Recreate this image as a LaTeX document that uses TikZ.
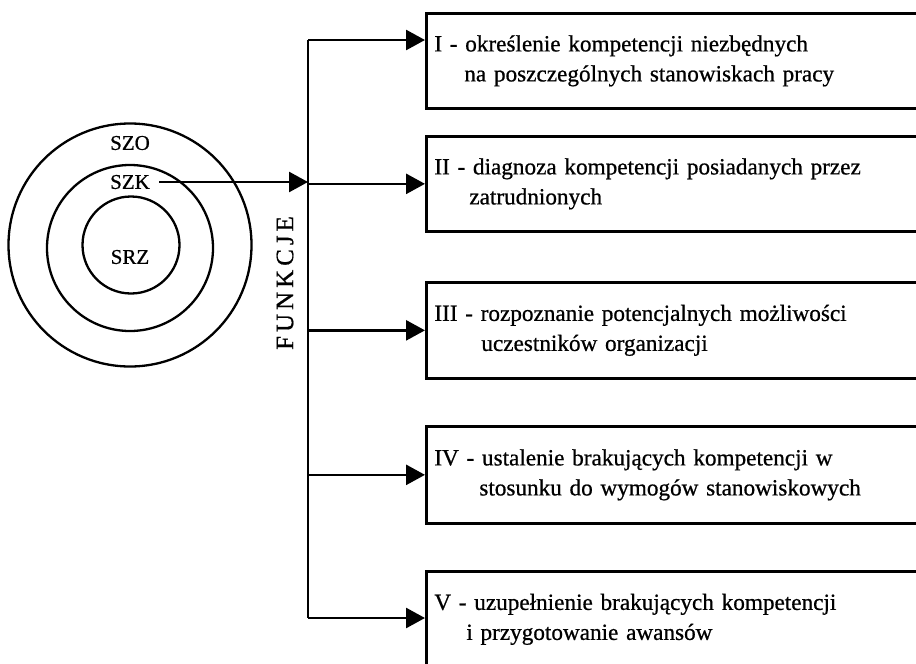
\documentclass[tikz,border=0pt]{standalone}
\usepackage{fontspec}
\setmainfont{Liberation Serif}[FakeBold=0.7]
\usetikzlibrary{arrows.meta}
\tikzset{
 ln/.style={line width=2.7pt},
 arr/.style={ln,-{Triangle[length=19pt,width=20pt]}},
 ring/.style={draw,circle,line width=2.3pt,inner sep=0pt},
 fbox/.style={draw,line width=2.7pt,rectangle,anchor=north west,minimum width=540pt,text width=524pt,inner xsep=8pt,align=left,font=\fontsize{23.2}{30}\selectfont},
 lbl/.style={font=\fontsize{21}{24}\selectfont,inner sep=1pt}
}
\begin{document}
\begin{tikzpicture}[x=1pt,y=-1pt]
\useasboundingbox (0,0) rectangle (916,664);
\fill[white] (0,0) rectangle (916,664);
\clip (0,0) rectangle (916,664);
% circles
\node[ring,minimum size=243pt] (szo) at (130,245) {};
\node[ring,minimum size=166pt] (szk) at (130,248) {};
\node[ring,minimum size=97pt] (srz) at (131,245) {};
\node[lbl] (tszo) at (130,143) {SZO};
\node[lbl] (tszk) at (130,182) {SZK};
\node[lbl] (tsrz) at (130,257) {SRZ};
% FUNKCJE
\node[rotate=90,font=\fontsize{25}{25}\selectfont,inner sep=0pt] (fun) at (285,283) {F\hspace{4pt}U\hspace{4pt}N\hspace{4pt}K\hspace{4pt}C\hspace{4pt}J\hspace{4pt}E};
% boxes
\node[fbox,minimum height=95pt] (b1) at (425,12) {I - określenie kompetencji niezbędnych\\\hspace*{30pt}na poszczególnych stanowiskach pracy};
\node[fbox,minimum height=95pt] (b2) at (425,135) {II - diagnoza kompetencji posiadanych przez\\\hspace*{35pt}zatrudnionych};
\node[fbox,minimum height=96pt] (b3) at (425,281) {III - rozpoznanie potencjalnych możliwości\\\hspace*{47pt}uczestników organizacji};
\node[fbox,minimum height=97pt] (b4) at (425,425) {IV - ustalenie brakujących kompetencji w\\\hspace*{45pt}stosunku do wymogów stanowiskowych};
\node[fbox,minimum height=96pt] (b5) at (425,570) {V - uzupełnienie brakujących kompetencji\\\hspace*{32pt}i przygotowanie awansów};
% connectors
\coordinate (top) at (308,40);
\coordinate (bot) at (308,618);
\draw[ln] (top) -- (bot);
\draw[arr] (top) -- (b1.west |- top);
\draw[arr] ([xshift=8pt]tszk.east) -- (top |- tszk.east);
\draw[arr] (top |- b2.west) -- (b2.west);
\draw[arr] (top |- b3.west) -- (b3.west);
\draw[arr] (top |- b4.west) -- (b4.west);
\draw[arr] (bot) -- (b5.west |- bot);
\end{tikzpicture}
\end{document}
